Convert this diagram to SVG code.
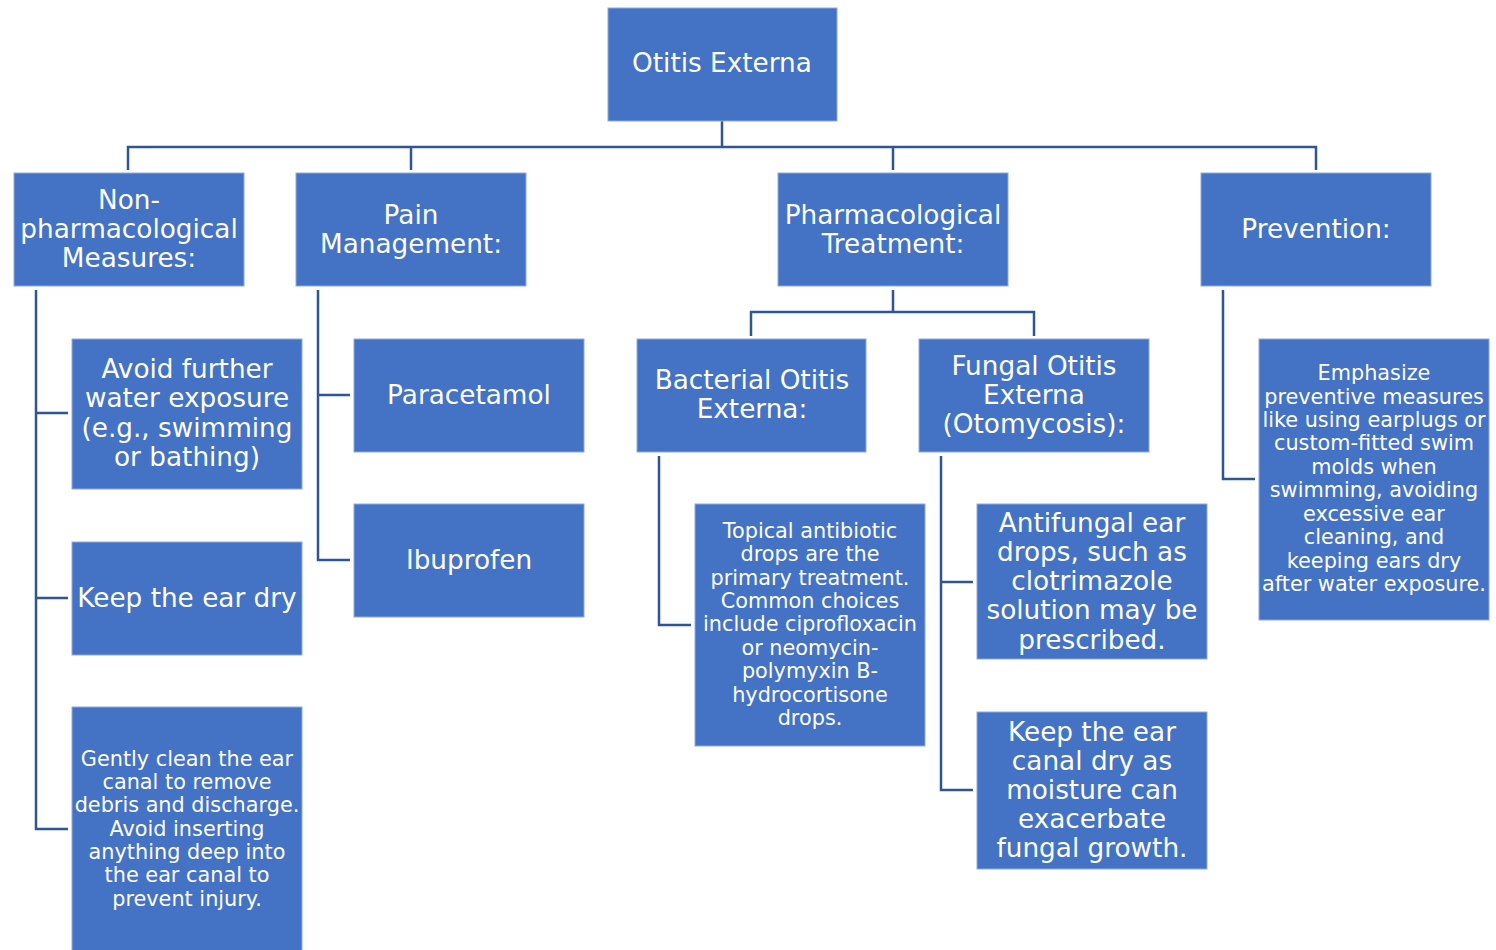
<svg xmlns="http://www.w3.org/2000/svg" width="1496" height="950" viewBox="0 0 1496 950">
<style>
.box{fill:#4472C4;stroke:#8FAADC;stroke-width:1}
.t{fill:#fff;font-family:"DejaVu Sans","Open Sans",sans-serif;text-anchor:middle;dominant-baseline:central}
.l{font-size:26.3px}
.s{font-size:20.8px}
.c{fill:none;stroke:#2F5597;stroke-width:2.5}
</style>
<rect width="1496" height="950" fill="#fff"/>
<g id="connectors">
<path class="c" d="M722,121V147M128,170V147H1316V170M411,147V170M893,147V170"/>
<path class="c" d="M36,290V829H68M36,413H68M36,598H68"/>
<path class="c" d="M318,290V560H350M318,395H350"/>
<path class="c" d="M893,290V312M751,336V312H1034V336"/>
<path class="c" d="M659,456V625H691"/>
<path class="c" d="M941,456V790H973M941,582H973"/>
<path class="c" d="M1223,290V479H1255"/>
</g>
<g id="root"><rect class="box" x="608" y="8" width="229" height="113"/><text class="t l" x="722" y="63">Otitis Externa</text></g>
<g id="nonpharm"><rect class="box" x="14" y="173" width="230" height="113"/><text class="t l" x="129"><tspan x="129" y="200">Non-</tspan><tspan x="129" y="229">pharmacological</tspan><tspan x="129" y="258">Measures:</tspan></text></g>
<g id="pain"><rect class="box" x="296" y="173" width="230" height="113"/><text class="t l" x="411"><tspan x="411" y="215">Pain</tspan><tspan x="411" y="244">Management:</tspan></text></g>
<g id="pharm"><rect class="box" x="778" y="173" width="230" height="113"/><text class="t l" x="893"><tspan x="893" y="215">Pharmacological</tspan><tspan x="893" y="244">Treatment:</tspan></text></g>
<g id="prevention"><rect class="box" x="1201" y="173" width="230" height="113"/><text class="t l" x="1316" y="229">Prevention:</text></g>
<g id="avoid"><rect class="box" x="72" y="339" width="230" height="150"/><text class="t l"><tspan x="187" y="369">Avoid further</tspan><tspan x="187" y="398">water exposure</tspan><tspan x="187" y="428">(e.g., swimming</tspan><tspan x="187" y="457">or bathing)</tspan></text></g>
<g id="keepdry"><rect class="box" x="72" y="542" width="230" height="113"/><text class="t l" x="187" y="598">Keep the ear dry</text></g>
<g id="gently"><rect class="box" x="72" y="707" width="230" height="250"/><text class="t s"><tspan x="187" y="759">Gently clean the ear</tspan><tspan x="187" y="782">canal to remove</tspan><tspan x="187" y="805">debris and discharge.</tspan><tspan x="187" y="829">Avoid inserting</tspan><tspan x="187" y="852">anything deep into</tspan><tspan x="187" y="875">the ear canal to</tspan><tspan x="187" y="899">prevent injury.</tspan></text></g>
<g id="paracetamol"><rect class="box" x="354" y="339" width="230" height="113"/><text class="t l" x="469" y="395">Paracetamol</text></g>
<g id="ibuprofen"><rect class="box" x="354" y="504" width="230" height="113"/><text class="t l" x="469" y="560">Ibuprofen</text></g>
<g id="bacterial"><rect class="box" x="637" y="339" width="229" height="113"/><text class="t l"><tspan x="752" y="380">Bacterial Otitis</tspan><tspan x="752" y="409">Externa:</tspan></text></g>
<g id="fungal"><rect class="box" x="919" y="339" width="230" height="113"/><text class="t l"><tspan x="1034" y="366">Fungal Otitis</tspan><tspan x="1034" y="395">Externa</tspan><tspan x="1034" y="424">(Otomycosis):</tspan></text></g>
<g id="topical"><rect class="box" x="695" y="504" width="230" height="242"/><text class="t s"><tspan x="810" y="531">Topical antibiotic</tspan><tspan x="810" y="554">drops are the</tspan><tspan x="810" y="578">primary treatment.</tspan><tspan x="810" y="601">Common choices</tspan><tspan x="810" y="624">include ciprofloxacin</tspan><tspan x="810" y="648">or neomycin-</tspan><tspan x="810" y="671">polymyxin B-</tspan><tspan x="810" y="695">hydrocortisone</tspan><tspan x="810" y="718">drops.</tspan></text></g>
<g id="antifungal"><rect class="box" x="977" y="504" width="230" height="155"/><text class="t l"><tspan x="1092" y="523">Antifungal ear</tspan><tspan x="1092" y="552">drops, such as</tspan><tspan x="1092" y="581">clotrimazole</tspan><tspan x="1092" y="610">solution may be</tspan><tspan x="1092" y="640">prescribed.</tspan></text></g>
<g id="keepcanal"><rect class="box" x="977" y="712" width="230" height="157"/><text class="t l"><tspan x="1092" y="732">Keep the ear</tspan><tspan x="1092" y="761">canal dry as</tspan><tspan x="1092" y="790">moisture can</tspan><tspan x="1092" y="819">exacerbate</tspan><tspan x="1092" y="848">fungal growth.</tspan></text></g>
<g id="emphasize"><rect class="box" x="1259" y="339" width="230" height="281"/><text class="t s"><tspan x="1374" y="373">Emphasize</tspan><tspan x="1374" y="397">preventive measures</tspan><tspan x="1374" y="420">like using earplugs or</tspan><tspan x="1374" y="443">custom-fitted swim</tspan><tspan x="1374" y="467">molds when</tspan><tspan x="1374" y="490">swimming, avoiding</tspan><tspan x="1374" y="514">excessive ear</tspan><tspan x="1374" y="537">cleaning, and</tspan><tspan x="1374" y="561">keeping ears dry</tspan><tspan x="1374" y="584">after water exposure.</tspan></text></g>
</svg>
